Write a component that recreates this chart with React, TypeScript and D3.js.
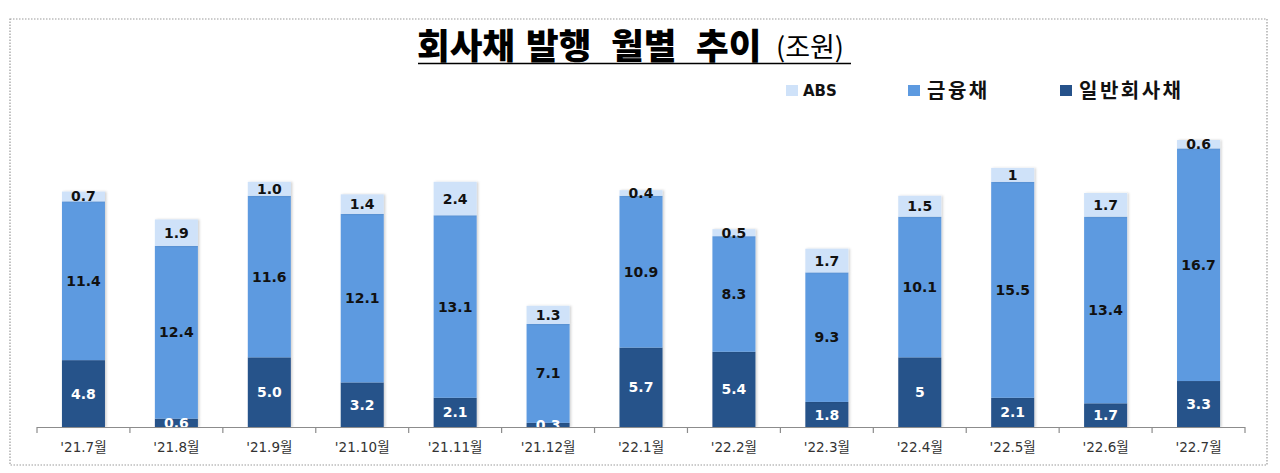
import React, {useEffect, useRef} from "react"
import * as d3 from "d3"

const months = ["'21.7월", "'21.8월", "'21.9월", "'21.10월", "'21.11월", "'21.12월",
    "'22.1월", "'22.2월", "'22.3월", "'22.4월", "'22.5월", "'22.6월", "'22.7월"]
const general = ["4.8", "0.6", "5.0", "3.2", "2.1", "0.3", "5.7", "5.4", "1.8", "5", "2.1", "1.7", "3.3"]
const financial = ["11.4", "12.4", "11.6", "12.1", "13.1", "7.1", "10.9", "8.3", "9.3", "10.1", "15.5", "13.4", "16.7"]
const abs = ["0.7", "1.9", "1.0", "1.4", "2.4", "1.3", "0.4", "0.5", "1.7", "1.5", "1", "1.7", "0.6"]

const titleWords = ["회사채", "발행", "월별", "추이"]
const colors = ["#26528a", "#5d9ae0", "#cfe2f9"]
const labelColors = ["#ffffff", "#111111", "#111111"]

const W = 1280
const H = 473

const App = () => {
    const ref = useRef(null)

    useEffect(() => {
        const svg = d3.select(ref.current)
        svg.selectAll("*").remove()

        const baseY = 427
        const x = d3.scaleBand().domain(months).range([37, 1245]).paddingInner(0.537).paddingOuter(0.2685)
        const y = d3.scaleLinear().domain([0, 22]).range([baseY, baseY - 22 * 13.93])

        const rows = months.map((m, i) => ({
            month: m,
            s0: +general[i], s1: +financial[i], s2: +abs[i],
            l0: general[i], l1: financial[i], l2: abs[i],
        }))
        const stacked = d3.stack<any>().keys(["s0", "s1", "s2"])(rows)

        const defs = svg.append("defs")
        defs.append("clipPath").attr("id", "plotClip")
            .append("rect").attr("x", 0).attr("y", 0).attr("width", W).attr("height", baseY)
        const f = defs.append("filter").attr("id", "shadow")
            .attr("x", "-20%").attr("y", "-20%").attr("width", "140%").attr("height", "140%")
        f.append("feDropShadow").attr("dx", 1.5).attr("dy", 0).attr("stdDeviation", 1.2)
            .attr("flood-color", "#000").attr("flood-opacity", 0.18)

        // frame
        svg.append("rect")
            .attr("x", 10).attr("y", 19).attr("width", 1257).attr("height", 446)
            .attr("fill", "none").attr("stroke", "#9a9a9a").attr("stroke-width", 1.2)
            .attr("stroke-dasharray", "1.5 1.5")

        // title, words placed one by one
        const wordX = [417, 526, 611, 696]
        titleWords.forEach((w, i) => {
            svg.append("text")
                .attr("x", wordX[i]).attr("y", 59)
                .attr("font-family", "'Noto Sans CJK KR', sans-serif")
                .attr("font-size", 35.5).attr("font-weight", 900)
                .attr("fill", "#000").text(w)
        })
        svg.append("text")
            .attr("x", 776).attr("y", 57)
            .attr("font-family", "'Noto Sans CJK KR', sans-serif")
            .attr("font-size", 27).attr("font-weight", 400)
            .attr("fill", "#000").text("(조원)")
        svg.append("line")
            .attr("x1", 418).attr("x2", 851).attr("y1", 63.5).attr("y2", 63.5)
            .attr("stroke", "#000").attr("stroke-width", 1.6)

        // legend
        const legend = [
            {name: "ABS", color: colors[2], x: 786, size: 15, font: "'DejaVu Sans', sans-serif", spacing: 0},
            {name: "금융채", color: colors[1], x: 908, size: 20, font: "'Noto Sans CJK KR', sans-serif", spacing: 2.5},
            {name: "일반회사채", color: colors[0], x: 1060, size: 20, font: "'Noto Sans CJK KR', sans-serif", spacing: 2.5},
        ]
        legend.forEach(l => {
            svg.append("rect").attr("x", l.x).attr("y", 85).attr("width", 12).attr("height", 11)
                .attr("fill", l.color)
            svg.append("text").attr("x", l.x + (l.name === "ABS" ? 17 : 19)).attr("y", l.name === "ABS" ? 96 : 98)
                .attr("font-family", l.font).attr("font-size", l.size).attr("font-weight", "bold")
                .attr("letter-spacing", l.spacing)
                .attr("fill", "#111").text(l.name)
        })

        // bars
        const plot = svg.append("g")
        stacked.forEach((layer, k) => {
            plot.append("g").attr("fill", colors[k]).attr("filter", "url(#shadow)")
                .selectAll("rect")
                .data(layer)
                .join("rect")
                .attr("x", (d: any) => x(d.data.month)!)
                .attr("y", (d: any) => y(d[1]))
                .attr("width", x.bandwidth())
                .attr("height", (d: any) => y(d[0]) - y(d[1]))
        })

        // axis
        const axis = svg.append("g")
        axis.append("line").attr("x1", 37).attr("x2", 1245).attr("y1", baseY + 0.5).attr("y2", baseY + 0.5)
            .attr("stroke", "#8c8c8c").attr("stroke-width", 1.2)
        const step = x.step()
        d3.range(months.length + 1).forEach(i => {
            const tx = 37 + i * step
            axis.append("line").attr("x1", tx).attr("x2", tx).attr("y1", baseY).attr("y2", baseY + 6)
                .attr("stroke", "#8c8c8c").attr("stroke-width", 1.2)
        })
        axis.selectAll("text.tick")
            .data(months)
            .join("text")
            .attr("x", d => x(d)! + x.bandwidth() / 2)
            .attr("y", 452)
            .attr("text-anchor", "middle")
            .attr("font-family", "'DejaVu Sans', 'Noto Sans CJK KR', sans-serif")
            .attr("font-size", 13.5)
            .attr("fill", "#333")
            .text(d => d)

        // value labels
        const labels = svg.append("g").attr("clip-path", "url(#plotClip)")
        stacked.forEach((layer, k) => {
            labels.append("g")
                .selectAll("text")
                .data(layer)
                .join("text")
                .attr("x", (d: any) => x(d.data.month)! + x.bandwidth() / 2)
                .attr("y", (d: any) => (y(d[0]) + y(d[1])) / 2)
                .attr("dy", "0.36em")
                .attr("text-anchor", "middle")
                .attr("font-family", "'DejaVu Sans', sans-serif")
                .attr("font-size", 14)
                .attr("font-weight", "bold")
                .attr("fill", labelColors[k])
                .text((d: any) => d.data["l" + k])
        })
    }, [])

    return (
        <svg ref={ref} width={W} height={H} viewBox={`0 0 ${W} ${H}`}
             style={{position: "absolute", left: 0, top: 0, background: "#fff"}}/>
    )
}

export default App
